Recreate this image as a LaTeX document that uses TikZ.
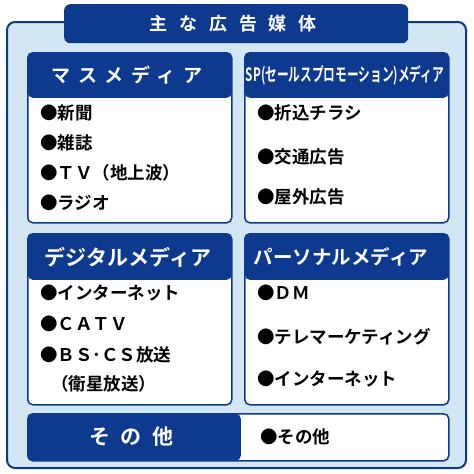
\documentclass[tikz,border=0pt]{standalone}
\usepackage{fontspec}
\usepackage{graphicx}
\newfontfamily\jp{Noto Sans CJK JP}[BoldFont={Noto Sans CJK JP Bold}]
\usetikzlibrary{positioning}
\definecolor{navy}{HTML}{0D3A8E}
\definecolor{paleblue}{HTML}{D3E6F4}
\newcommand\spaced[2]{{\addfontfeature{LetterSpace=#1}#2}}

\begin{document}
\begin{tikzpicture}[x=1pt, y=-1pt,
		frame/.style={draw=navy, line width=2pt, fill=paleblue, rounded corners=8pt},
		panel/.style={draw=navy, line width=1.5pt, fill=white, rounded corners=5pt, anchor=north west, inner sep=0pt},
		headfill/.style={path picture={\fill[navy] (path picture bounding box.north west) rectangle ([yshift=-#1]path picture bounding box.north east);}},
		head/.style={text=white, font=\jp\bfseries\fontsize{19}{19}\selectfont, inner sep=0pt},
		item/.style={anchor=west, inner sep=0pt, font=\jp\bfseries\fontsize{17.5}{17.5}\selectfont}]
		\useasboundingbox (0,0) rectangle (474,474);
		\draw[frame] (7,22) rectangle (466,468);
		\node[fill=navy, rounded corners=6pt, minimum width=344, minimum height=39, anchor=north west] (title) at (64,4) {};
		\node[head, font=\jp\bfseries\fontsize{18}{18}\selectfont] at ([xshift=-3]title) {\spaced{65}{主な広告媒体}};

		\node[panel, headfill=45, minimum width=204, minimum height=170] (mass) at (27,52) {};
		\node[panel, headfill=45, minimum width=204, minimum height=170] (sp) at (244,52) {};
		\node[panel, headfill=46, minimum width=204, minimum height=171] (digital) at (27,233) {};
		\node[panel, headfill=46, minimum width=204, minimum height=171] (personal) at (244,233) {};
		\node[panel, minimum width=421, minimum height=47,
			path picture={\fill[navy] (path picture bounding box.north west) rectangle ([xshift=213]path picture bounding box.south west);}] (other) at (27,413) {};

		% headings
		\node[head] (masshead) at (127,75) {\spaced{40}{マスメディア}};
		\node[head] (sphead) at (345,75) {\resizebox{198pt}{16pt}{SP(セールスプロモーション)メディア}};
		\node[head, font=\jp\bfseries\fontsize{21}{21}\selectfont] (digitalhead) at (128,257) {デジタルメディア};
		\node[head, font=\jp\bfseries\fontsize{19.5}{19.5}\selectfont] (personalhead) at (341,257) {パーソナルメディア};
		\node[head, font=\jp\bfseries\fontsize{21}{21}\selectfont] (otherhead) at (131,437) {\spaced{50}{その他}};

		% mass media
		\node[item] (newspaper) at (40,113) {●新聞};
		\node[item] (magazine) at (40,143) {●雑誌};
		\node[item] (tv) at (40,173) {●ＴＶ（地上波）};
		\node[item] (radio) at (40,203) {●ラジオ};
		% sales promotion
		\node[item] (flyer) at (257,113) {●折込チラシ};
		\node[item] (transit) at (257,157) {●交通広告};
		\node[item] (outdoor) at (257,197) {●屋外広告};
		% digital
		\node[item] (internet) at (40,293) {●インターネット};
		\node[item] (catv) at (40,324) {●ＣＡＴＶ};
		\node[item] (bscs) at (40,355) {●ＢＳ･ＣＳ放送};
		\node[item] (satellite) at (51,384) {（衛星放送）};
		% personal
		\node[item] (dm) at (257,293) {●ＤＭ};
		\node[item] (telemarketing) at (257,337) {●テレマーケティング};
		\node[item] (webpersonal) at (257,379) {●インターネット};
		% other
		\node[item] (misc) at (260,437) {●その他};
	\end{tikzpicture}
\end{document}
